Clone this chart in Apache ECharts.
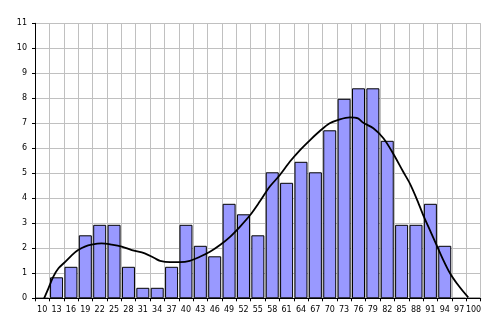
<!DOCTYPE html>
<html><head><meta charset="utf-8">
<script src="https://cdn.jsdelivr.net/npm/echarts@6/dist/echarts.min.js"></script>
<style>html,body{margin:0;padding:0;background:#fff}#c{width:495px;height:335px}</style>
</head><body><div id="c"></div>
<script>
const categories = ['10','13','16','19','22','25','28','31','34','37','40','43','46','49','52','55','58','61','64','67','70','73','76','79','82','85','88','91','94','97','100'];
const barValues = [0,0.84,1.26,2.52,2.94,2.94,1.26,0.42,0.42,1.26,2.94,2.1,1.68,3.78,3.36,2.52,5.04,4.62,5.46,5.04,6.72,7.98,8.4,8.4,6.3,2.94,2.94,3.78,2.1,0,0];
const curveX = [10.4,11.3,12.3,13.4,14.8,16.2,17.5,18.9,20.3,22.4,24.5,26.6,28.7,31.4,33.5,34.6,36.7,38.7,40.8,42.9,45.0,47.1,49.2,51.3,53.4,55.4,57.5,59.6,61.7,63.8,65.9,68.0,70.0,72.1,74.2,75.9,77.0,79.1,81.2,83.2,85.3,86.7,88.1,89.5,90.9,92.3,93.7,95.1,96.5,97.9,98.9];
const curveY = [0,0.4,0.86,1.2,1.46,1.73,1.93,2.07,2.15,2.2,2.15,2.07,1.93,1.8,1.6,1.5,1.45,1.45,1.5,1.66,1.86,2.13,2.46,2.87,3.33,3.87,4.47,4.93,5.47,5.93,6.33,6.7,7.0,7.16,7.24,7.2,7.02,6.8,6.4,5.8,5.07,4.6,4.0,3.33,2.73,2.13,1.53,1.0,0.6,0.26,0.04];

const chart = echarts.init(document.getElementById('c'), null, {renderer:'canvas'});
const font = {fontFamily:'DejaVu Sans', fontSize:8, color:'#000'};
chart.setOption({
  animation:false,
  backgroundColor:'#fff',
  grid:{left:35, right:14.3, top:23.3, bottom:36.7},
  xAxis:[{
    type:'category', data:categories, boundaryGap:true,
    axisLine:{lineStyle:{color:'#000', width:1}},
    axisTick:{show:true, length:3, lineStyle:{color:'#000'}},
    axisLabel:Object.assign({margin:8, interval:0}, font),
    splitLine:{show:true, lineStyle:{color:'#c0c0c0', width:1}}
  },{
    type:'value', min:8.5, max:101.5, show:false
  }],
  yAxis:{
    type:'value', min:0, max:11, interval:1,
    axisLine:{show:true, lineStyle:{color:'#000', width:1}},
    axisTick:{show:true, length:3, lineStyle:{color:'#000'}},
    axisLabel:Object.assign({margin:8}, font),
    splitLine:{show:true, lineStyle:{color:'#c0c0c0', width:1}}
  },
  series:[{
    type:'bar', data:barValues, xAxisIndex:0, barWidth:13,
    itemStyle:{color:'#9999ff', borderColor:'#000', borderWidth:1}
  },{
    type:'line', xAxisIndex:1, data:curveX.map((x,i)=>[x,curveY[i]]),
    smooth:0.3, showSymbol:false, symbol:'none',
    lineStyle:{color:'#000', width:1.8}
  }]
});
</script></body></html>
